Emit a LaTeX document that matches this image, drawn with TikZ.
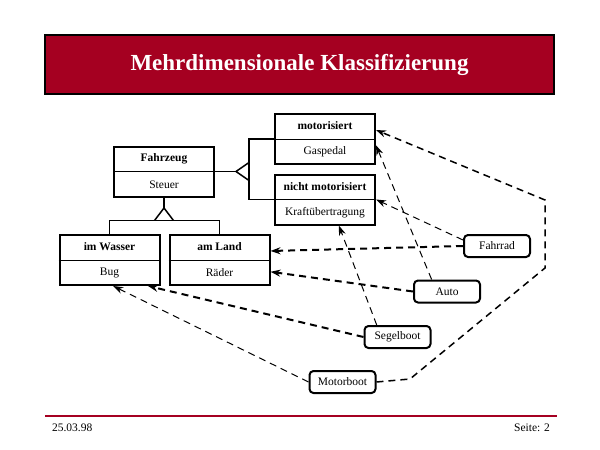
\documentclass[tikz,border=0pt]{standalone}
\usepackage{fontspec}
\setmainfont{Liberation Serif}
\usetikzlibrary{calc,arrows.meta}
\definecolor{folienrot}{RGB}{165,0,33}

% class box with name and attribute compartment
\newcommand{\klasse}[4]{%
    \node[klassenbox] (#1) at (#2) {};
    \draw[line width=1pt] (#1.west) -- (#1.east);
    \node[font=\bfseries] (#1-name) at ($(#1.north)!0.5!(#1.center)$) {#3};
    \node (#1-attr) at ($(#1.south)!0.5!(#1.center)$) {#4};
}

\begin{document}
\fontsize{11.5}{14}\selectfont
\begin{tikzpicture}[x=1pt,y=-1pt,
    klassenbox/.style={draw, line width=2pt, minimum width=100pt, minimum height=50pt, inner sep=0pt},
    objekt/.style={draw, line width=2pt, rounded corners=4pt, minimum width=66pt, minimum height=22pt, inner sep=0pt},
    erbt/.style={line width=1.5pt},
    bezug/.style={dash pattern=on 7pt off 5pt, line width=1pt, -{Stealth[length=10pt,width=7pt]}},
    bezugdick/.style={bezug, line width=2pt}]
    \useasboundingbox (0,0) rectangle (600,450);

    % Title bar
    \node[draw, line width=2pt, fill=folienrot, text=white, minimum width=509pt, minimum height=59pt,
          font=\fontsize{23}{28}\selectfont\bfseries] (titel) at (299.5,64.5) {Mehrdimensionale Klassifizierung};

    % Draw the classes
    \klasse{fahrzeug}{164,171.5}{Fahrzeug}{Steuer}
    \klasse{motorisiert}{325,139}{motorisiert}{Gaspedal}
    \klasse{nichtmot}{325,199.5}{nicht motorisiert}{Kraftübertragung}
    \klasse{wasser}{109.5,260}{im Wasser}{Bug}
    \klasse{land}{219.5,260}{am Land}{Räder}

    % Inheritance to the right
    \coordinate (spitzeR) at ($(fahrzeug.east)+(21,0)$);
    \draw[erbt] (fahrzeug.east) -- (spitzeR);
    \draw[erbt] (249,162.5) -- (spitzeR) -- (249,180.5);
    \draw[erbt] (motorisiert.west) -| (249,171.5) |- (nichtmot.west);

    % Inheritance downwards
    \coordinate (spitzeU) at ($(fahrzeug.south)+(0,10.5)$);
    \draw[erbt] (fahrzeug.south) -- (spitzeU);
    \draw[erbt] (154.5,220.5) -- (spitzeU) -- (173.5,220.5);
    \draw[erbt] (wasser.north) |- (164,220.5) -| (land.north);

    % Draw the objects
    \node[objekt] (fahrrad) at (497,246) {Fahrrad};
    \node[objekt] (auto) at (447,291.5) {Auto};
    \node[objekt] (segelboot) at (397.5,337) {Segelboot};
    \node[objekt] (motorboot) at (342.5,382) {Motorboot};

    % Instance-of links
    \draw[bezug] (fahrrad.170) -- (nichtmot.east);
    \draw[bezugdick] (fahrrad.west) -- (land.10);
    \draw[bezugdick] (auto.west) -- (land.-13);
    \draw[bezug] (auto.142) -- (motorisiert.-7);
    \draw[bezug] (segelboot.150) -- (nichtmot.-62);
    \draw[bezugdick] (segelboot.west) -- (wasser.-34);
    \draw[bezug] (motorboot.west) -- (wasser.-82);

    \coordinate (k1) at (410,379);
    \coordinate (k2) at (545,268);
    \coordinate (k3) at (545,200);
    \draw[bezug, line width=1.5pt] (motorboot.east) -- (k1) -- (k2) -- (k3) -- (motorisiert.10);

    % Footer
    \draw[folienrot, line width=2pt] (45,416) coordinate (fussL) -- (557,416) coordinate (fussR);
    \node[anchor=west] (datum) at (48,428) {25.03.98};
    \node[anchor=east] (seite) at (554,428) {Seite: 2};
\end{tikzpicture}
\end{document}
